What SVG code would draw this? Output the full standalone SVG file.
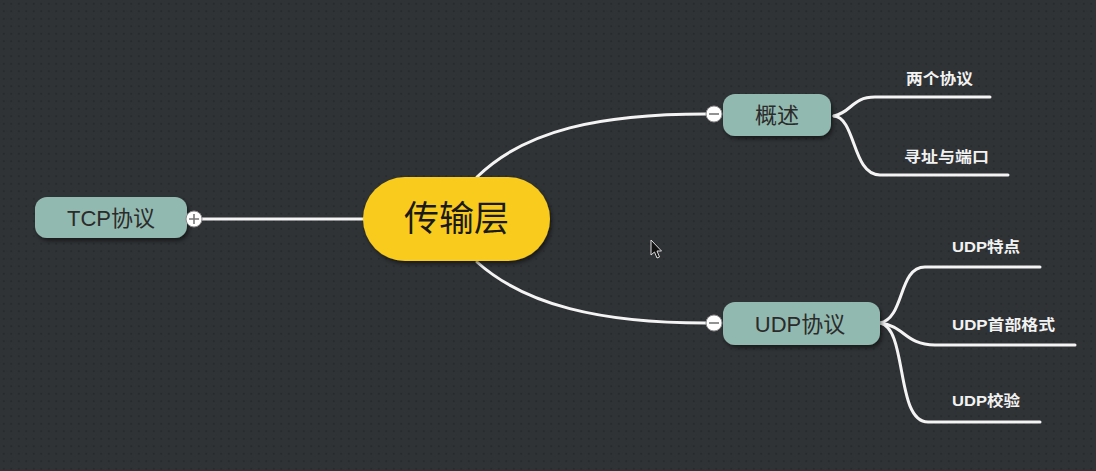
<svg xmlns="http://www.w3.org/2000/svg" width="1096" height="471" viewBox="0 0 1096 471">
<style>
.conn{fill:none;stroke:#f4f4f4;stroke-width:3;stroke-linecap:round}
.node{fill:#92b9af}
.ntext{font-family:"Liberation Sans","Noto Sans CJK SC",sans-serif;font-size:22px;fill:#2b2b2b}
.ctext{font-family:"Liberation Sans","Noto Sans CJK SC",sans-serif;font-size:35px;fill:#1a1a1a}
.leaf{font-family:"Liberation Sans","Noto Sans CJK SC",sans-serif;font-size:15px;font-weight:bold;fill:#f2f2f2}
.tog{fill:#ffffff;stroke:#8a8a8a;stroke-width:1}
.togl{stroke:#777;stroke-width:1.6}
</style>
<defs>
<pattern id="dots" width="7.5" height="7.5" patternUnits="userSpaceOnUse">
<rect width="7.5" height="7.5" fill="#303336"/>
<circle cx="3.75" cy="3.75" r="1" fill="#26292b"/>
</pattern>
<filter id="sh" x="-20%" y="-30%" width="140%" height="170%">
<feDropShadow dx="2" dy="3" stdDeviation="2" flood-color="#000" flood-opacity="0.5"/>
</filter>
</defs>
<rect width="1096" height="471" fill="url(#dots)"/>
<g id="connectors">
<path class="conn" d="M202,219 L364,219"/>
<path class="conn" d="M477,177 C525,130 600,114 706,114"/>
<path class="conn" d="M477,262 C525,305 600,323 706,323"/>
<path class="conn" d="M834,116 C852,112 852,97 875,97 L990,97"/>
<path class="conn" d="M834,116 C856,118 852,175 880,175 L1008,175"/>
<path class="conn" d="M880,323 C905,318 898,267 925,267 L1040,267"/>
<path class="conn" d="M880,323 C905,326 905,345 935,345 L1075,345"/>
<path class="conn" d="M880,323 C908,328 895,422 928,422 L1040,422"/>
</g>
<g id="center">
<rect x="363" y="177" width="187" height="84" rx="42" fill="#f9cb1c" filter="url(#sh)"/>
<text class="ctext" x="456.5" y="231" text-anchor="middle">传输层</text>
</g>
<g id="tcp">
<rect class="node" x="35" y="197" width="152" height="41" rx="12" filter="url(#sh)"/>
<text class="ntext" x="111" y="225.5" text-anchor="middle">TCP协议</text>
<circle class="tog" cx="194" cy="219" r="8"/>
<path class="togl" d="M189,219 H199 M194,214 V224"/>
</g>
<g id="gaishu">
<rect class="node" x="723" y="94" width="108" height="42" rx="12" filter="url(#sh)"/>
<text class="ntext" x="777" y="123" text-anchor="middle">概述</text>
<circle class="tog" cx="714" cy="114" r="8"/>
<path class="togl" d="M709,114 H719"/>
</g>
<g id="udp">
<rect class="node" x="723" y="302" width="157" height="43" rx="12" filter="url(#sh)"/>
<text class="ntext" x="800" y="331.5" text-anchor="middle">UDP协议</text>
<circle class="tog" cx="714" cy="323" r="8"/>
<path class="togl" d="M709,323 H719"/>
</g>
<g id="leaf1"><text class="leaf" x="906" y="84" textLength="67" lengthAdjust="spacingAndGlyphs">两个协议</text></g>
<g id="leaf2"><text class="leaf" x="904" y="162" textLength="85" lengthAdjust="spacingAndGlyphs">寻址与端口</text></g>
<g id="leaf3"><text class="leaf" x="952" y="252" textLength="68" lengthAdjust="spacingAndGlyphs">UDP特点</text></g>
<g id="leaf4"><text class="leaf" x="952" y="330" textLength="103" lengthAdjust="spacingAndGlyphs">UDP首部格式</text></g>
<g id="leaf5"><text class="leaf" x="952" y="406" textLength="68" lengthAdjust="spacingAndGlyphs">UDP校验</text></g>
<g id="cursor">
<path d="M651,240 L651,255 L654.5,252 L657,258 L659.5,257 L657,251 L661.5,251 Z" fill="#111" stroke="#ddd" stroke-width="1"/>
</g>
</svg>
